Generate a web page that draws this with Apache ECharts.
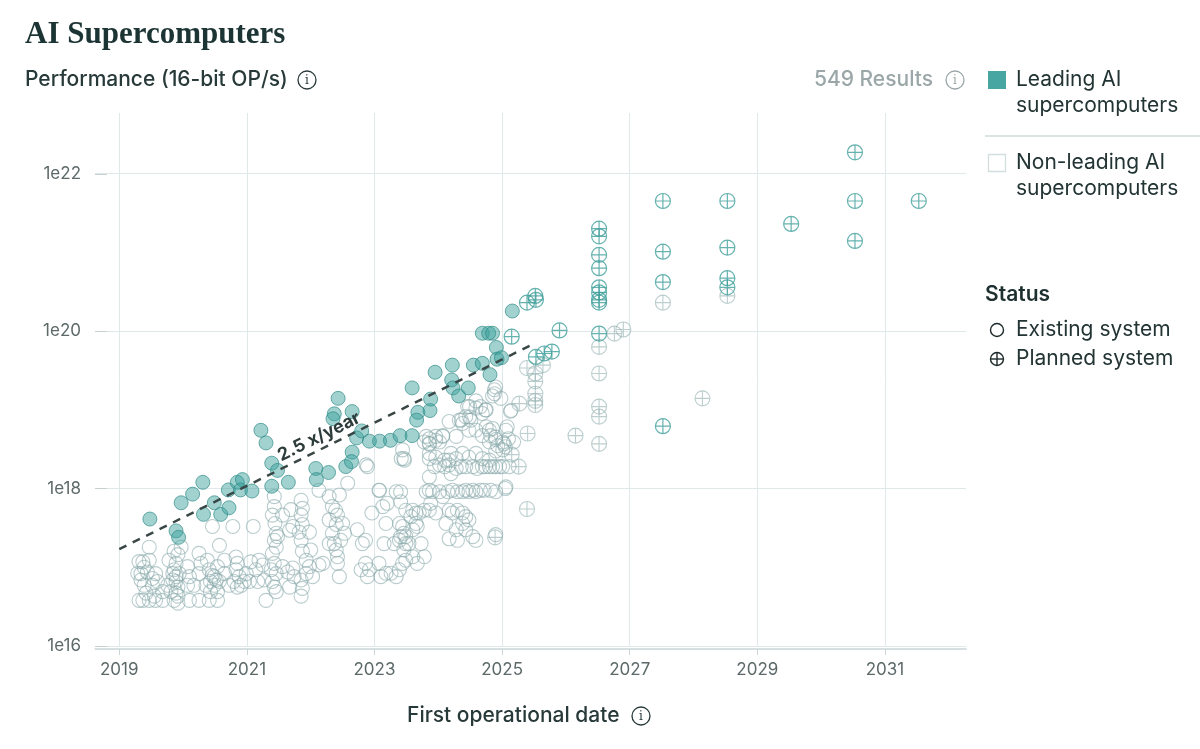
<!DOCTYPE html>
<html>
<head>
<meta charset="utf-8">
<script src="https://cdn.jsdelivr.net/npm/echarts@6/dist/echarts.min.js"></script>
<style>
html,body{margin:0;padding:0;background:#fff;}
#chart{width:1200px;height:749px;}
</style>
</head>
<body>
<div id="chart"></div>
<script>
// ---------- data (first operational date as decimal year, 16-bit OP/s) ----------
const xTickYears = [2019, 2021, 2023, 2025, 2027, 2029, 2031];

const leadingExisting = [
[2019.48,4.1e17],[2019.89,2.9e17],[2019.93,2.4e17],[2019.97,6.6e17],[2020.15,8.5e17],[2020.31,1.2e18],[2020.32,4.7e17],
[2020.49,6.6e17],[2020.59,4.7e17],[2020.72,5.7e17],[2020.71,9.6e17],[2020.85,1.2e18],[2020.93,1.3e18],[2020.90,9.6e17],
[2021.08,9.3e17],[2021.22,5.5e18],[2021.30,3.8e18],[2021.39,2.1e18],[2021.48,1.7e18],[2021.65,1.2e18],[2021.39,1.07e18],
[2022.08,1.8e18],[2022.09,1.3e18],[2022.28,1.6e18],[2022.43,1.4e19],[2022.37,8.9e18],[2022.35,7.7e18],[2022.65,9.5e18],
[2022.65,2.9e18],[2022.55,1.9e18],[2022.64,2.2e18],[2022.72,4.4e18],[2022.80,5.4e18],[2022.92,4.0e18],[2023.08,4.0e18],
[2023.25,4.1e18],[2023.40,4.7e18],[2023.59,4.7e18],[2023.59,1.9e19],[2023.68,9.3e18],[2023.66,7.4e18],[2023.87,9.8e18],
[2023.88,1.37e19],[2023.95,3.0e19],[2024.22,3.7e19],[2024.21,2.4e19],[2024.23,1.9e19],[2024.32,1.5e19],[2024.47,1.9e19],
[2024.55,3.7e19],[2024.69,3.9e19],[2024.69,9.4e19],[2024.79,9.4e19],[2024.85,9.4e19],[2024.81,2.8e19],[2024.91,6.2e19],
[2024.92,4.4e19],[2024.99,4.6e19],[2025.16,1.8e20]
];

const leadingPlanned = [
[2025.15,8.5e19],[2025.39,2.3e20],[2025.52,2.8e20],[2025.53,2.5e20],[2025.90,1.02e20],[2025.53,4.7e19],[2025.66,5.2e19],[2025.78,5.5e19],
[2026.52,2.0e21],[2026.52,1.6e21],[2026.52,9.3e20],[2026.52,6.3e20],[2026.52,3.6e20],[2026.52,3.1e20],[2026.52,2.5e20],[2026.52,2.3e20],[2026.52,9.3e19],
[2027.52,4.5e21],[2027.52,1.02e21],[2027.52,4.2e20],[2027.52,6.2e18],
[2028.53,4.5e21],[2028.53,1.15e21],[2028.53,4.7e20],[2028.53,3.6e20],
[2029.53,2.3e21],
[2030.53,1.87e22],[2030.53,4.5e21],[2030.53,1.4e21],
[2031.53,4.5e21]
];

const otherPlanned = [
[2027.52,2.3e20],[2028.53,2.8e20],[2026.76,9.3e19],[2026.90,1.05e20],[2028.14,1.4e19],[2026.15,4.7e18],
[2026.52,6.3e19],[2026.52,2.9e19],[2026.52,1.1e19],[2026.52,8.2e18],[2026.52,3.7e18],
[2025.39,3.4e19],[2025.52,2.9e19],[2025.52,2.3e19],[2025.52,1.6e19],[2025.52,1.3e19],[2025.52,1.15e19],[2025.64,3.7e19],
[2025.27,1.2e19],[2025.40,5.0e18],[2025.15,2.7e18],[2025.26,1.9e18],[2025.39,5.5e17],[2024.89,2.4e17]
];

const otherExisting = [
// 2019
[2019.47,1.8e17],[2019.37,1.17e17],[2019.47,1.23e17],[2019.34,8.3e16],[2019.44,8.7e16],[2019.52,7.2e16],[2019.39,5.9e16],
[2019.52,5.9e16],[2019.37,3.8e16],[2019.47,3.8e16],[2019.55,4.3e16],[2019.60,6.6e16],[2019.57,8.3e16],[2019.42,4.7e16],
[2019.68,4.9e16],[2019.68,3.8e16],[2019.57,3.8e16],[2019.31,1.18e17],[2019.29,8.4e16],[2019.34,6.9e16],[2019.31,3.8e16],[2019.39,1.0e17],
[2019.86,1.6e17],[2019.97,1.8e17],[2019.92,1.45e17],[2019.78,1.23e17],[2019.89,1.12e17],[2019.86,9.3e16],[2019.94,8.3e16],
[2019.84,6.9e16],[2019.89,6.6e16],[2019.92,5.6e16],[2019.81,4.9e16],[2019.89,4.7e16],[2019.86,3.8e16],[2019.92,3.5e16],
[2019.76,5.9e16],[2019.84,8.3e16],[2019.89,7.6e16],[2019.92,4.3e16],
// 2020
[2020.07,1.02e17],[2020.10,7.6e16],[2020.25,1.5e17],[2020.28,1.12e17],[2020.25,8.3e16],[2020.38,1.23e17],[2020.41,9.3e16],
[2020.46,7.9e16],[2020.52,6.9e16],[2020.57,6.6e16],[2020.54,1.02e17],[2020.36,5.9e16],[2020.41,3.8e16],[2020.25,3.8e16],
[2020.54,3.8e16],[2020.46,3.3e17],[2020.57,1.9e17],[2020.65,1.23e17],[2020.65,8.3e16],[2020.07,5.9e16],[2020.17,5.9e16],
[2020.43,6.6e16],[2020.49,5.9e16],[2020.43,4.9e16],[2020.54,4.9e16],[2020.49,7.6e16],[2020.10,3.8e16],
[2020.78,3.3e17],[2020.83,1.35e17],[2020.85,1.12e17],[2020.83,9.3e16],[2020.88,7.6e16],[2020.91,5.9e16],[2020.96,6.6e16],
[2020.72,5.9e16],[2020.99,8.3e16],[2020.80,6.6e16],[2020.85,5.6e16],
// 2021
[2021.10,3.3e17],[2021.06,1.17e17],[2021.19,1.23e17],[2021.25,1.07e17],[2021.14,9.3e16],[2021.17,6.6e16],[2021.27,6.9e16],
[2021.30,3.8e16],[2021.04,6.6e16],
[2021.43,7.9e17],[2021.43,5.9e17],[2021.40,4.6e17],[2021.44,3.6e17],[2021.46,2.7e17],[2021.48,2.45e17],[2021.43,2.2e17],
[2021.46,1.8e17],[2021.40,1.5e17],[2021.43,1.12e17],[2021.38,9.3e16],[2021.46,8.3e16],[2021.40,6.6e16],[2021.43,5.6e16],[2021.46,4.9e16],
[2021.56,4.6e17],[2021.69,5.4e17],[2021.67,2.95e17],[2021.72,3.3e17],[2021.56,1.02e17],[2021.64,8.7e16],[2021.72,9.8e16],
[2021.74,7.6e16],[2021.67,5.6e16],
[2021.85,7.1e17],[2021.87,5.6e17],[2021.85,4.6e17],[2021.87,3.5e17],[2021.82,2.8e17],[2021.85,2.2e17],[2021.98,2.8e17],
[2022.00,1.66e17],[2021.87,1.6e17],[2021.93,1.23e17],[2021.98,1.02e17],[2021.93,8.3e16],[2022.03,7.6e16],[2021.85,6.9e16],
[2021.87,5.4e16],[2021.85,4.3e16],[2022.13,1.07e17],[2022.19,1.12e17],
// 2022
[2022.13,9.5e17],[2022.29,7.9e17],[2022.34,5.9e17],[2022.29,4.0e17],[2022.40,3.5e17],[2022.34,2.7e17],[2022.29,2.0e17],
[2022.40,1.66e17],[2022.42,1.12e17],
[2022.58,1.17e18],[2022.45,8.3e17],[2022.39,5.3e17],[2022.42,4.6e17],[2022.50,3.6e17],[2022.37,2.0e17],[2022.47,2.2e17],
[2022.53,2.7e17],[2022.42,1.36e17],[2022.45,7.6e16],[2022.73,3.0e17],[2022.81,2.0e17],[2022.86,2.2e17],[2022.86,1.12e17],
[2022.92,9.3e16],[2022.79,9.3e16],[2022.89,7.6e16],[2022.89,1.9e18],[2022.87,2.0e18],[2022.96,4.9e17],
// 2023
[2023.07,1.12e17],[2023.10,7.6e16],[2023.18,8.4e16],[2023.26,8.4e16],[2023.34,7.6e16],[2023.39,9.3e16],[2023.44,1.12e17],
[2023.46,1.66e17],[2023.39,2.2e17],[2023.41,2.45e17],[2023.46,2.7e17],[2023.54,2.0e17],[2023.60,3.0e17],[2023.67,3.3e17],
[2023.73,2.0e17],[2023.78,1.36e17],[2023.67,1.12e17],[2023.49,1.23e17],[2023.60,1.36e17],
[2023.07,9.5e17],[2023.08,9.5e17],[2023.13,5.9e17],[2023.20,6.5e17],[2023.34,9.1e17],[2023.41,9.1e17],[2023.41,6.8e17],
[2023.44,3.3e17],[2023.57,4.4e17],[2023.65,3.6e17],[2023.70,4.9e17],[2023.78,5.3e17],[2023.86,5.3e17],[2023.88,6.5e17],
[2023.96,4.9e17],[2023.86,9.5e17],[2023.81,9.1e17],[2023.91,9.1e17],
[2023.18,3.6e17],[2023.15,2.0e17],[2023.31,2.0e17],[2023.39,3.6e17],[2023.49,5.3e17],[2023.60,5.3e17],[2023.65,4.9e17],
[2023.49,2.0e17],[2023.49,2.45e17],
[2023.86,1.4e18],[2023.94,1.9e18],[2023.86,2.4e18],[2023.96,2.5e18],[2023.86,3.7e18],[2023.78,3.9e18],[2023.96,4.1e18],
[2023.86,4.3e18],[2023.44,3.1e18],[2023.47,2.3e18],[2023.42,2.4e18],[2023.46,2.4e18],[2023.86,3.75e18],[2023.86,2.8e18],
[2023.81,4.6e18],[2023.96,4.6e18],
// 2024
[2024.02,9.1e17],[2024.07,7.9e17],[2024.15,9.1e17],[2024.22,9.5e17],[2024.30,9.1e17],[2024.38,9.1e17],[2024.43,9.5e17],
[2024.48,9.1e17],[2024.54,9.5e17],[2024.59,9.1e17],[2024.66,9.5e17],[2024.72,9.5e17],[2024.82,9.5e17],[2024.90,9.1e17],
[2025.05,1.0e18],[2025.06,1.05e18],
[2024.02,2.0e18],[2024.10,1.9e18],[2024.17,2.0e18],[2024.20,1.55e18],[2024.28,1.8e18],[2024.36,1.9e18],[2024.43,1.9e18],
[2024.54,1.9e18],[2024.61,1.8e18],[2024.69,1.9e18],[2024.74,1.9e18],[2024.80,1.9e18],[2024.85,1.9e18],[2024.90,1.9e18],
[2024.96,1.9e18],[2025.01,1.9e18],[2025.11,1.9e18],
[2024.10,2.3e18],[2024.20,2.8e18],[2024.28,2.4e18],[2024.38,2.8e18],[2024.48,2.5e18],[2024.59,2.8e18],[2024.69,2.4e18],
[2024.80,2.3e18],[2024.17,2.3e18],
[2024.07,4.7e18],[2024.02,3.9e18],[2024.07,4.6e18],[2024.28,4.6e18],
[2024.36,7.4e18],[2024.43,8.2e18],[2024.38,6.7e18],[2024.51,7.4e18],[2024.48,5.5e18],[2024.59,5.5e18],[2024.69,4.7e18],
[2024.82,4.7e18],[2024.90,4.5e18],[2025.01,3.9e18],[2024.93,3.5e18],[2025.03,3.7e18],[2025.05,3.4e18],[2024.80,3.9e18],
[2024.90,3.0e18],[2025.01,3.1e18],[2025.08,6.1e18],[2025.13,9.6e18],[2024.98,1.4e19],[2024.88,1.6e19],[2024.85,1.5e19],
[2024.66,1.1e19],[2024.74,1.0e19],[2024.59,1.3e19],[2024.46,1.1e19],[2024.33,7.4e18],[2024.17,7.1e18],
[2024.49,1.1e19],[2024.49,8.1e18],[2024.59,1.05e19],[2024.69,9.0e18],[2024.75,6.1e18],[2024.90,1.95e19],[2024.88,1.8e19],
[2024.85,5.8e18],[2024.75,1.0e19],[2025.14,9.8e18],[2025.06,5.5e18],[2024.80,5.5e18],[2024.90,4.2e18],[2025.10,4.3e18],
[2025.18,3.9e18],
[2024.17,5.3e17],[2024.22,4.9e17],[2024.30,5.3e17],[2024.38,4.9e17],[2024.43,4.4e17],[2024.48,4.0e17],[2024.38,3.6e17],
[2024.28,3.0e17],[2024.17,2.3e17],[2024.30,2.2e17],[2024.43,3.0e17],[2024.54,2.45e17],[2024.59,2.2e17],[2024.12,3.6e17],
[2024.90,2.6e17]
];

// trend line endpoints (2.5x / year fit)
const trendStart = [2019.0, 1.7e17];
const trendEnd = [2025.43, 6.5e19];
const trendLabel = '2.5 x/year';

// ---------- styling ----------
const SANS = 'Inter, "Noto Sans", "DejaVu Sans", sans-serif';
const PLUS = 'path://M0,10A10,10,0,1,1,20,10A10,10,0,1,1,0,10ZM0,10L20,10M10,0L10,20';
const TEAL = '#3f9f9b';

function infoIcon(cx, cy, color) {
  return {
    type: 'group',
    children: [
      { type: 'circle', shape: { cx: cx, cy: cy, r: 9 }, style: { fill: 'none', stroke: color, lineWidth: 1.3 } },
      { type: 'text', x: cx, y: cy + 0.5, style: { text: 'i', fill: color, font: '12px "DejaVu Serif", serif',
        textAlign: 'center', textVerticalAlign: 'middle', align: 'center', verticalAlign: 'middle' } }
    ]
  };
}
function txt(x, y, s, opts) {
  opts = opts || {};
  return { type: 'text', x: x, y: y, style: {
    text: s, fill: opts.fill || '#233434', font: opts.font || ('21px ' + SANS),
    textAlign: opts.align || 'left', align: opts.align || 'left',
    textVerticalAlign: 'middle', verticalAlign: 'middle' } };
}

const chart = echarts.init(document.getElementById('chart'));
const option = {
  animation: false,
  backgroundColor: '#ffffff',
  grid: [
    { left: 95, right: 234, top: 113, bottom: 103, containLabel: false },
    // helper grid spanning 1e16..1e22 only, used to draw the short y tick stubs
    { left: 95, right: 234, top: 174, bottom: 103, containLabel: false }
  ],
  xAxis: [{
    type: 'value', min: 2018.62, max: 2032.27, offset: 3,
    axisLine: { show: true, lineStyle: { color: '#c9d6d7', width: 1.5 } },
    axisTick: { show: true, length: 6, customValues: xTickYears, lineStyle: { color: '#c9d6d7' } },
    axisLabel: { customValues: xTickYears, formatter: v => String(v), color: '#5d6969', fontSize: 17, margin: 12, fontFamily: SANS },
    splitLine: { show: true, lineStyle: { color: '#e0e9ea', width: 1 } }
  }, {
    gridIndex: 1, type: 'value', min: 2018.62, max: 2032.27, show: false
  }],
  yAxis: [{
    type: 'log', logBase: 10, min: 1e16, max: 5.9e22, interval: 2,
    axisLine: { show: false },
    axisTick: { show: false },
    axisLabel: {
      showMaxLabel: false, color: '#5d6969', fontSize: 17, margin: 14, fontFamily: SANS,
      formatter: v => { const e = Math.log10(v); const r = Math.round(e); return Math.abs(e - r) < 1e-6 ? '1e' + r : ''; }
    },
    splitLine: { show: true, showMaxLine: false, lineStyle: { color: '#e0e9ea', width: 1 } }
  }, {
    gridIndex: 1, type: 'log', logBase: 10, min: 1e16, max: 1e22, interval: 2,
    axisLine: { show: false },
    axisTick: { show: true, inside: true, length: 12, lineStyle: { color: '#c6d1d2', width: 1 } },
    axisLabel: { show: false },
    splitLine: { show: false }
  }],
  series: [
    {
      name: 'Non-leading existing', type: 'scatter', data: otherExisting, symbol: 'circle', symbolSize: 14, z: 2,
      itemStyle: { color: 'rgba(255,255,255,0)', borderColor: 'rgba(138,170,171,0.75)', borderWidth: 1.1 }
    },
    {
      name: 'Non-leading planned', type: 'scatter', data: otherPlanned, symbol: PLUS, symbolSize: 15, z: 2,
      itemStyle: { color: 'rgba(255,255,255,0)', borderColor: 'rgba(150,178,179,0.8)', borderWidth: 1.1 }
    },
    {
      name: 'Leading planned', type: 'scatter', data: leadingPlanned, symbol: PLUS, symbolSize: 15, z: 3,
      itemStyle: { color: 'rgba(255,255,255,0)', borderColor: TEAL, borderWidth: 1.2 }
    },
    {
      name: 'Leading existing', type: 'scatter', data: leadingExisting, symbol: 'circle', symbolSize: 14, z: 4,
      itemStyle: { color: 'rgba(55,158,153,0.58)', borderColor: 'rgba(45,138,134,0.85)', borderWidth: 1 }
    },
    {
      name: 'Trend', type: 'scatter', data: [], z: 5,
      markLine: {
        silent: true, symbol: ['none', 'none'], animation: false,
        lineStyle: { type: [8, 7], color: '#3a4747', width: 2.5 },
        label: { show: true, position: 'insideMiddleTop', formatter: trendLabel, color: '#2e3b3b',
          fontSize: 18, fontWeight: 'bold', fontFamily: SANS, distance: 3 },
        emphasis: { disabled: true },
        data: [[{ coord: trendStart }, { coord: trendEnd }]]
      }
    }
  ],
  graphic: [
    txt(25, 35, 'AI Supercomputers', { font: 'bold 31px "Liberation Serif", serif', fill: '#1c3434' }),
    txt(25, 80, 'Performance (16-bit OP/s)', { font: '500 21px ' + SANS, fill: '#283939' }),
    infoIcon(307, 80, '#283939'),
    txt(933, 80, '549 Results', { font: '500 21px ' + SANS, fill: '#9aa6a7', align: 'right' }),
    infoIcon(955, 80, '#9aa6a7'),
    // legend
    { type: 'rect', shape: { x: 988, y: 71, width: 18, height: 18 }, style: { fill: '#47a6a2' } },
    txt(1016, 80, 'Leading AI'),
    txt(1016, 106, 'supercomputers'),
    { type: 'line', shape: { x1: 985, y1: 136, x2: 1200, y2: 136 }, style: { stroke: '#cfdbdb', lineWidth: 1.5 } },
    { type: 'rect', shape: { x: 988.5, y: 154.5, width: 17, height: 17 }, style: { fill: '#ffffff', stroke: '#d3dede', lineWidth: 1.3 } },
    txt(1016, 163, 'Non-leading AI'),
    txt(1016, 189, 'supercomputers'),
    txt(985, 295, 'Status', { font: '600 21px ' + SANS, fill: '#1e2f2f' }),
    { type: 'circle', shape: { cx: 997, cy: 330, r: 6.5 }, style: { fill: 'none', stroke: '#1e2a2a', lineWidth: 1.4 } },
    txt(1016, 330, 'Existing system'),
    { type: 'circle', shape: { cx: 997, cy: 359, r: 6.5 }, style: { fill: 'none', stroke: '#1e2a2a', lineWidth: 1.4 } },
    { type: 'line', shape: { x1: 990.5, y1: 359, x2: 1003.5, y2: 359 }, style: { stroke: '#1e2a2a', lineWidth: 1.4 } },
    { type: 'line', shape: { x1: 997, y1: 352.5, x2: 997, y2: 365.5 }, style: { stroke: '#1e2a2a', lineWidth: 1.4 } },
    txt(1016, 359, 'Planned system'),
    // x axis name
    txt(407, 716, 'First operational date', { font: '500 21px ' + SANS, fill: '#283939' }),
    infoIcon(641, 716, '#283939')
  ]
};
chart.setOption(option);
</script>
</body>
</html>
